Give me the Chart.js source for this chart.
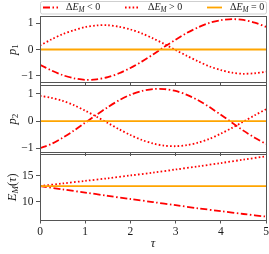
<!DOCTYPE html>
<html><head><meta charset="utf-8">
<script src="https://cdn.jsdelivr.net/npm/chart.js@4/dist/chart.umd.min.js"></script>
<style>
html,body{margin:0;padding:0;background:#fff;width:269px;height:254px;overflow:hidden}
.w{position:absolute;left:0;width:269px}
</style></head><body>
<div class="w" style="top:0;height:86px"><canvas id="c1"></canvas></div>
<div class="w" style="top:84px;height:72px"><canvas id="c2"></canvas></div>
<div class="w" style="top:154px;height:100px"><canvas id="c3"></canvas></div>
<script>
// ---- data ----
const tau = [0,0.25,0.5,0.75,1,1.25,1.5,1.75,2,2.25,2.5,2.75,3,3.25,3.5,3.75,4,4.25,4.5,4.75,5];
const p1Neg = [-0.58,-0.79,-0.97,-1.09,-1.15,-1.13,-1.05,-0.90,-0.70,-0.46,-0.19,0.10,0.37,0.63,0.84,1.01,1.11,1.15,1.12,1.02,0.86];
const p1Pos = [0.15,0.38,0.58,0.73,0.85,0.91,0.92,0.86,0.76,0.61,0.42,0.21,-0.02,-0.24,-0.45,-0.64,-0.78,-0.88,-0.92,-0.90,-0.84];
const p1Zero = [0,0,0,0,0,0,0,0,0,0,0,0,0,0,0,0,0,0,0,0,0];
const p2Neg = [-0.99,-0.84,-0.61,-0.35,-0.06,0.23,0.51,0.76,0.96,1.10,1.17,1.17,1.10,0.96,0.76,0.51,0.23,-0.06,-0.35,-0.61,-0.84];
const p2Pos = [0.92,0.85,0.74,0.58,0.38,0.16,-0.07,-0.30,-0.51,-0.69,-0.82,-0.90,-0.92,-0.88,-0.79,-0.65,-0.46,-0.25,-0.02,0.21,0.43];
const p2Zero = [0,0,0,0,0,0,0,0,0,0,0,0,0,0,0,0,0,0,0,0,0];
const tauE = [0,0.5,1,1.5,2,2.5,3,3.5,4,4.5,5];
const eNeg = [13,12.35,11.75,11.1,10.5,9.9,9.3,8.7,8.15,7.6,7.1];
const ePos = [13,13.5,14.0,14.5,15.05,15.6,16.2,16.8,17.45,18.1,18.75];
const eZero = [13,13,13,13,13,13,13,13,13,13,13];
const xTicks = [0,1,2,3,4,5];
const p1Ticks = [-1,0,1];
const p2Ticks = [-1,0,1];
const eTicks = [10,15];
const legendLabels = ['ΔE_M < 0','ΔE_M > 0','ΔE_M = 0'];

// ---- style ----
const FONT = '"Liberation Serif", "DejaVu Serif", serif';
const FRAME = '#555';
const TXT = '#1a1a1a';
const RED = '#ff0000';
const ORANGE = '#ffa500';
const STY = {
  neg: {borderColor: RED, borderDash: [7,2.5,1.5,2.5], borderWidth: 1.8, order: 2},
  pos: {borderColor: RED, borderDash: [1.6,2.2], borderWidth: 1.8, order: 1},
  zero:{borderColor: ORANGE, borderDash: [], borderWidth: 1.8, order: 0}
};

function ds(xs, ys, kind){
  return Object.assign({data: xs.map((x,i)=>({x:x,y:ys[i]})), pointRadius:0, tension:0.3, fill:false}, STY[kind]);
}

function segsFor(label){
  // 'ΔE_M < 0' -> rich segments
  const m = label.match(/^Δ(E)_(M)(.*)$/);
  return [['Δ','r'],[m[1],'i'],[m[2],'si'],[m[3],'r']];
}
function drawRich(ctx, segs, x, y, size, align){
  const fontOf = (st)=> (st.indexOf('i')>=0?'italic ':'') + (st[0]==='s'? size*0.72 : size) + 'px ' + FONT;
  let total = 0;
  segs.forEach(s=>{ ctx.font = fontOf(s[1]); total += ctx.measureText(s[0]).width; });
  let cx = align==='center' ? x - total/2 : x;
  ctx.textBaseline = 'middle'; ctx.textAlign = 'left'; ctx.fillStyle = TXT;
  segs.forEach(s=>{ ctx.font = fontOf(s[1]); ctx.fillText(s[0], cx, y + (s[1][0]==='s'? size*0.28:0)); cx += ctx.measureText(s[0]).width; });
}

const deco = {
  id: 'deco',
  afterDraw(chart, args, opts){
    const ctx = chart.ctx, a = chart.chartArea;
    ctx.save();
    // frame
    ctx.strokeStyle = FRAME; ctx.lineWidth = 1;
    const L = Math.floor(a.left)+0.5, R = Math.floor(a.right)+0.5, T = Math.floor(a.top)+0.5, B = Math.floor(a.bottom)+0.5;
    ctx.strokeRect(L, T, R-L, B-T);
    // y title
    if (opts.ytitle){
      ctx.save();
      ctx.translate(12.5, (a.top+a.bottom)/2);
      ctx.rotate(-Math.PI/2);
      drawRich(ctx, opts.ytitle, 0, 0, 12.5, 'center');
      ctx.restore();
    }
    // legend
    if (opts.legend){
      ctx.strokeStyle = '#cfcfcf'; ctx.lineWidth = 1;
      const lx = 40.5, ly = 1.5, lw = 226, lh = 12.5, r = 2;
      ctx.beginPath();
      ctx.moveTo(lx+r, ly); ctx.lineTo(lx+lw-r, ly); ctx.arcTo(lx+lw, ly, lx+lw, ly+r, r);
      ctx.lineTo(lx+lw, ly+lh-r); ctx.arcTo(lx+lw, ly+lh, lx+lw-r, ly+lh, r);
      ctx.lineTo(lx+r, ly+lh); ctx.arcTo(lx, ly+lh, lx, ly+lh-r, r);
      ctx.lineTo(lx, ly+r); ctx.arcTo(lx, ly, lx+r, ly, r); ctx.closePath(); ctx.stroke();
      const kinds = ['neg','pos','zero'];
      const sx = [43, 125, 207], tx = [66, 148, 230];
      kinds.forEach((k,i)=>{
        const st = STY[k];
        ctx.save();
        ctx.strokeStyle = st.borderColor; ctx.lineWidth = st.borderWidth; ctx.setLineDash(st.borderDash);
        ctx.beginPath(); ctx.moveTo(sx[i], 7.5); ctx.lineTo(sx[i]+15, 7.5); ctx.stroke();
        ctx.restore();
        drawRich(ctx, segsFor(legendLabels[i]), tx[i], 7.5, 10, 'left');
      });
    }
    ctx.restore();
  }
};

function minus(v){ return String(v).replace('-', '\u2212'); }

function makeChart(id, datasets, yMin, yMax, yTicks, opt){
  const tickFont = {family: FONT, size: 11.5};
  return new Chart(document.getElementById(id), {
    type: 'line',
    data: {datasets: datasets},
    plugins: [deco],
    options: {
      animation: false, responsive: true, maintainAspectRatio: false,
      layout: {padding: {top: opt.padTop, right: 3, left: 0, bottom: 0}},
      plugins: {legend: {display: false}, tooltip: {enabled: false}, deco: {ytitle: opt.ytitle, legend: opt.legend}},
      scales: {
        x: {
          type: 'linear', min: 0, max: 5,
          afterBuildTicks: s => { s.ticks = xTicks.map(v => ({value: v})); },
          grid: {drawOnChartArea: false, drawTicks: true, tickLength: 3.5, tickColor: FRAME, tickWidth: 1},
          border: {display: false},
          ticks: {display: opt.xLabels, font: tickFont, color: TXT, padding: 2, maxRotation: 0, autoSkip: false},
          title: {display: opt.xLabels, text: 'τ', font: {family: FONT, size: 12.5, style: 'italic'}, color: TXT, padding: {top: 0, bottom: 2.5}},
          afterFit: s => { s.height = opt.xHeight; s.paddingLeft = 0; s.paddingRight = 0; }
        },
        y: {
          min: yMin, max: yMax,
          afterBuildTicks: s => { s.ticks = yTicks.map(v => ({value: v})); },
          grid: {drawOnChartArea: false, drawTicks: true, tickLength: 4, tickColor: FRAME, tickWidth: 1},
          border: {display: false},
          ticks: {font: tickFont, color: TXT, padding: 2.5, callback: v => minus(v)},
          afterFit: s => { s.width = 40; s.paddingTop = 0; s.paddingBottom = 0; }
        }
      }
    }
  });
}

makeChart('c1', [ds(tau,p1Neg,'neg'), ds(tau,p1Pos,'pos'), ds(tau,p1Zero,'zero')], -1.25, 1.25, p1Ticks,
  {padTop: 16.5, xHeight: 3.5, xLabels: false, legend: true, ytitle: [['p','i'],['1','sr']]});
makeChart('c2', [ds(tau,p2Neg,'neg'), ds(tau,p2Pos,'pos'), ds(tau,p2Zero,'zero')], -1.15, 1.3, p2Ticks,
  {padTop: 1.5, xHeight: 3.5, xLabels: false, legend: false, ytitle: [['p','i'],['2','sr']]});
makeChart('c3', [ds(tauE,eNeg,'neg'), ds(tauE,ePos,'pos'), ds(tauE,eZero,'zero')], 6.44, 19.1, eTicks,
  {padTop: 0.5, xHeight: 34, xLabels: true, legend: false, ytitle: [['E','i'],['M','si'],['(','r'],['τ','i'],[')','r']]});
</script>
</body></html>
